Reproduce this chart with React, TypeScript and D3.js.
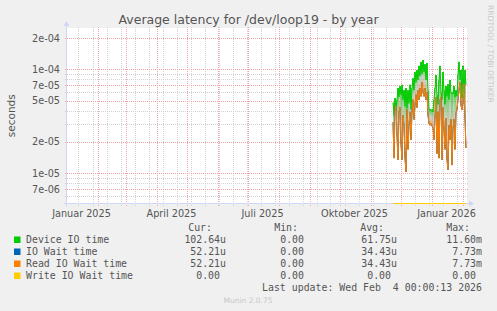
import React from 'react';
import * as d3 from 'd3';

const W = 497;
const H = 311;

// ---- data ----
const dataStart = '2025-11-23T12:00:00';
const deviceIOTime = [
  4.8e-5, 3.6e-5, 5.3e-5, 4.1e-5, 5.1e-5, 6.6e-5, 5.4e-5, 6.9e-5, 5.7e-5, 7.1e-5,
  5.1e-5, 6.3e-5, 4.4e-5, 6.6e-5, 4.2e-5, 6.3e-5, 4.7e-5, 7.1e-5, 4.1e-5, 6.6e-5,
  8.2e-5, 6.3e-5, 9.4e-5, 7.5e-5, 9.85e-5, 7.9e-5, 1.08e-4, 8.6e-5, 1.18e-4, 9.0e-5,
  1.23e-4, 9.4e-5, 1.12e-4, 7.9e-5, 1.15e-4, 6.3e-5, 4.1e-5, 4.15e-5,
  4.0e-5, 4.1e-5, 3.9e-5, 5.1e-5, 6.6e-5, 8.8e-5, 5.7e-5, 4.6e-5, 7.9e-5, 1.08e-4,
  6.0e-5, 5.1e-5, 9.4e-5, 6.3e-5, 4.6e-5, 6.9e-5, 5.5e-5, 7.2e-5, 5.1e-5, 7.9e-5,
  5.9e-5, 6.0e-5, 5.8e-5, 6.9e-5, 5.4e-5, 6.3e-5, 5.5e-5, 8.8e-5, 1.18e-4, 7.9e-5,
  9.85e-5, 5.3e-5, 1.08e-4, 5.7e-5, 9.85e-5, 7.1e-5,
];
const readIOWaitTime = [
  3.1e-5, 1.4e-5, 4.1e-5, 4.5e-5, 2.3e-5, 1.35e-5, 3.9e-5, 4.3e-5, 1.9e-5, 1.35e-5,
  3.6e-5, 2.9e-5, 1.4e-5, 1.03e-5, 4.1e-5, 1.7e-5, 2.9e-5, 3.9e-5, 2.1e-5, 3.9e-5,
  5.1e-5, 3.3e-5, 4.5e-5, 5.7e-5, 4.3e-5, 6.3e-5, 5.1e-5, 6.6e-5, 5.5e-5, 7.5e-5,
  6.0e-5, 5.5e-5, 6.6e-5, 5.1e-5, 6.0e-5, 3.6e-5, 3.0e-5, 2.9e-5,
  3.0e-5, 2.85e-5, 2.75e-5, 2.1e-5, 3.4e-5, 5.4e-5, 1.55e-5, 3.9e-5, 1.4e-5, 5.1e-5,
  5.4e-5, 1.35e-5, 4.3e-5, 2.6e-5, 1.7e-5, 3.4e-5, 1.35e-5, 1.08e-5, 2.9e-5, 2.1e-5,
  3.3e-5, 1.2e-5, 2.7e-5, 3.3e-5, 1.7e-5, 3.8e-5, 4.1e-5, 5.1e-5, 6.3e-5, 7.5e-5,
  4.5e-5, 4.1e-5, 4.7e-5, 7.3e-5, 3.3e-5, 1.75e-5,
];
const ioWaitTime = readIOWaitTime.slice();
const writeIOWaitTime = readIOWaitTime.map(() => 0);

const yMajorTicks = [7e-6, 1e-5, 2e-5, 5e-5, 7e-5, 1e-4, 2e-4];
const yTickLabels = ['7e-06', '1e-05', '2e-05', '5e-05', '7e-05', '1e-04', '2e-04'];
const yMinorTicks = [6e-6, 8e-6, 9e-6, 3e-5, 4e-5, 6e-5, 8e-5, 9e-5];
const xLabelMonths = ['2025-01-16', '2025-04-16', '2025-07-16', '2025-10-16', '2026-01-16'];
const xLabels = ['Januar 2025', 'April 2025', 'Juli 2025', 'Oktober 2025', 'Januar 2026'];

const seriesNames = ['Device IO time', 'IO Wait time', 'Read IO Wait time', 'Write IO Wait time'];
const seriesColors = ['#00cc00', '#0066b3', '#ff8000', '#ffcc00'];
const curValues = ['102.64u', '52.21u', '52.21u', '0.00'];
const minValues = ['0.00', '0.00', '0.00', '0.00'];
const avgValues = ['61.75u', '34.43u', '34.43u', '0.00'];
const maxValues = ['11.60m', '7.73m', '7.73m', '0.00'];

// ---- layout ----
const L = 67, R = 467, T = 28, B = 203.5;
const CW = 6.0; // mono char width

export default function App() {
  const x = d3.scaleTime()
    .domain([new Date('2025-01-01T12:00:00'), new Date('2026-02-05T12:00:00')])
    .range([L, R]);
  const y = d3.scaleLog().domain([5.12e-6, 2.5e-4]).range([B, T]);
  const [d0, d1] = x.domain();
  const start = new Date(dataStart);
  const dates = deviceIOTime.map((_, i) => d3.timeDay.offset(start, i));
  const yc = (v: number) => y(Math.max(v, y.domain()[0]));
  const line = (vals: number[]) =>
    d3.line<number>().x((_, i) => x(dates[i])).y((v) => yc(v))(vals) || '';

  const months = d3.timeMonth.range(d0, d1);
  const mondays = d3.timeMonday.range(d0, d1).filter((_, i) => i % 2 === 1);

  const grayGrid = '#d2d2d2';
  const redGrid = '#f0a4a4';
  const font = 'DejaVu Sans, sans-serif';
  const mono = 'DejaVu Sans Mono, monospace';
  const txt = '#555';

  const series = [deviceIOTime, ioWaitTime, readIOWaitTime, writeIOWaitTime];
  const valEnd = (s: string, end: number) => (/[a-z]$/.test(s) ? end : end - CW);

  // shaded band between device time and read wait time, per day
  const band = dates.slice(0, -1).map((d, i) => {
    const xa = x(d), xb = x(dates[i + 1]);
    const top = Math.min(yc(deviceIOTime[i]), yc(deviceIOTime[i + 1]));
    const bot = Math.max(yc(readIOWaitTime[i]), yc(readIOWaitTime[i + 1]));
    return { xa, xb, top, bot };
  });

  return (
    <svg width={W} height={H} style={{ display: 'block', position: 'absolute', left: 0, top: 0 }}>
      <defs>
        <linearGradient id="bandGrad" x1="0" y1="0" x2="0" y2="1">
          <stop offset="0%" stopColor="#00cc00" stopOpacity={0.75} />
          <stop offset="50%" stopColor="#a8a89a" stopOpacity={0.55} />
          <stop offset="100%" stopColor="#ff8000" stopOpacity={0.75} />
        </linearGradient>
      </defs>
      <rect x={0} y={0} width={W} height={H} fill="#f0f0f0" />
      <rect x={L} y={T} width={R - L} height={B - T} fill="#ffffff" />
      <text x={W / 2} y={24} textAnchor="middle" fontFamily={font} fontSize={12.5} fill="#555">
        Average latency for /dev/loop19 - by year
      </text>
      <text transform={`translate(488,5) rotate(90)`} fontFamily={font} fontSize={7.6} fill="#c8c8c8">
        RRDTOOL / TOBI OETIKER
      </text>
      {/* minor grid */}
      {yMinorTicks.map((v) => (
        <line key={'ym' + v} x1={L - 2} x2={R + 2} y1={Math.round(y(v)) + 0.5} y2={Math.round(y(v)) + 0.5}
          stroke={grayGrid} strokeDasharray="1,1" />
      ))}
      {mondays.map((d) => (
        <line key={'xm' + +d} x1={Math.round(x(d)) + 0.5} x2={Math.round(x(d)) + 0.5} y1={T - 1} y2={B + 2.5}
          stroke={grayGrid} strokeDasharray="1,1" />
      ))}
      {/* major grid */}
      {yMajorTicks.map((v) => (
        <line key={'yM' + v} x1={L - 2} x2={R + 2} y1={Math.round(y(v)) + 0.5} y2={Math.round(y(v)) + 0.5}
          stroke={redGrid} strokeDasharray="1,1" />
      ))}
      {months.map((d) => (
        <line key={'xM' + +d} x1={Math.round(x(d)) + 0.5} x2={Math.round(x(d)) + 0.5} y1={T - 1} y2={B + 2.5}
          stroke={redGrid} strokeDasharray="1,1" />
      ))}
      {/* axes */}
      <line x1={L - 3} x2={R + 3} y1={B} y2={B} stroke="#cfd6f8" />
      <path d={`M${R + 7},${B} L${R + 2},${B - 3} L${R + 2},${B + 3} Z`} fill="#cfd6f8" />
      <line x1={L - 0.5} x2={L - 0.5} y1={B + 3} y2={T - 3} stroke="#cfd6f8" />
      <path d={`M${L - 0.5},${T - 7} L${L - 3.5},${T - 2} L${L + 2.5},${T - 2} Z`} fill="#cfd6f8" />
      {/* y labels */}
      {yMajorTicks.map((v, i) => (
        <text key={'yl' + v} x={60} y={y(v) + 3.5} textAnchor="end" fontFamily={font} fontSize={9.7} fill={txt}>
          {yTickLabels[i]}
        </text>
      ))}
      <text transform={`translate(15,${(T + B) / 2}) rotate(-90)`} textAnchor="middle" fontFamily={font}
        fontSize={10.5} fill={txt}>seconds</text>
      {xLabelMonths.map((m, i) => (
        <text key={m} x={x(new Date(m + 'T00:00:00'))} y={216.5} textAnchor="middle" fontFamily={font}
          fontSize={9.7} fill={txt}>{xLabels[i]}</text>
      ))}
      {/* data */}
      {band.map((b, i) => (
        <rect key={'b' + i} x={b.xa} y={b.top} width={b.xb - b.xa} height={Math.max(0, b.bot - b.top)}
          fill="url(#bandGrad)" />
      ))}
      {series.map((vals, i) => (
        <path key={'s' + i} d={line(vals)} fill="none" stroke={seriesColors[i]} strokeWidth={1} />
      ))}
      {/* legend */}
      <g fontFamily={mono} fontSize={9.9} fill={txt}>
        <text x={212} y={231} textAnchor="end">Cur:</text>
        <text x={298} y={231} textAnchor="end">Min:</text>
        <text x={384} y={231} textAnchor="end">Avg:</text>
        <text x={470} y={231} textAnchor="end">Max:</text>
        {seriesNames.map((n, i) => {
          const by = 243 + i * 12;
          return (
            <g key={n}>
              <rect x={14} y={by - 6.5} width={6.5} height={6.5} fill={seriesColors[i]} />
              <text x={26} y={by}>{n}</text>
              <text x={valEnd(curValues[i], 226)} y={by} textAnchor="end">{curValues[i]}</text>
              <text x={valEnd(minValues[i], 310)} y={by} textAnchor="end">{minValues[i]}</text>
              <text x={valEnd(avgValues[i], 397)} y={by} textAnchor="end">{avgValues[i]}</text>
              <text x={valEnd(maxValues[i], 482)} y={by} textAnchor="end">{maxValues[i]}</text>
            </g>
          );
        })}
        <text x={482} y={291} textAnchor="end" style={{ whiteSpace: 'pre' }}>
          {'Last update: Wed Feb  4 00:00:13 2026'}
        </text>
      </g>
      <text x={248} y={302.5} textAnchor="middle" fontFamily={font} fontSize={7.5} fill="#c8c8c8">
        Munin 2.0.75
      </text>
    </svg>
  );
}
